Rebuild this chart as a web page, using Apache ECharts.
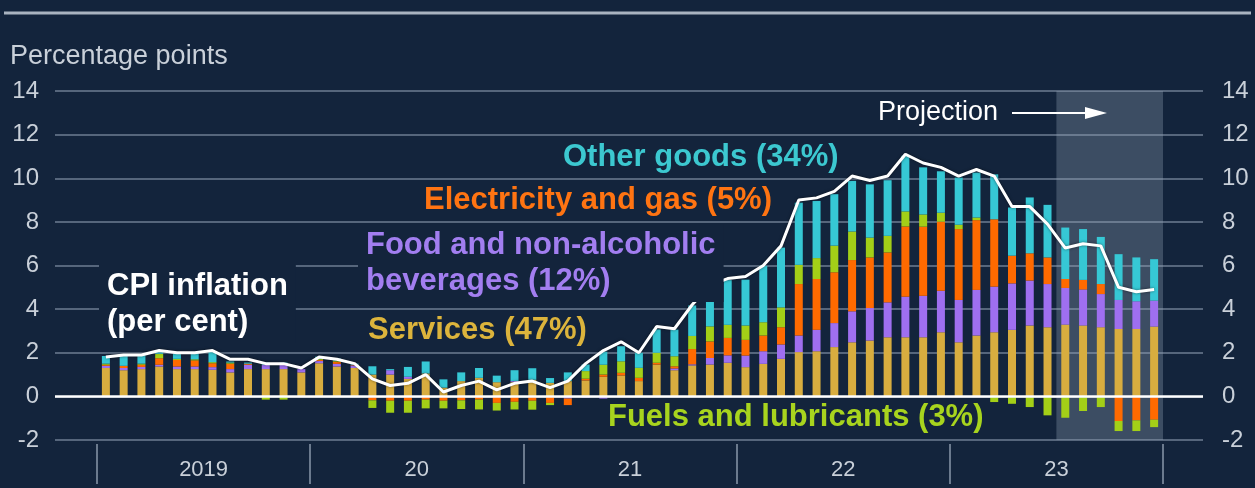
<!DOCTYPE html>
<html>
<head>
<meta charset="utf-8">
<script src="https://cdn.jsdelivr.net/npm/echarts@6/dist/echarts.min.js"></script>
<style>
  html, body { margin: 0; padding: 0; background: #13243c; }
  #chart { width: 1255px; height: 488px; }
</style>
</head>
<body>
<div id="chart"></div>
<script>
// monthly contributions to CPI inflation, Jan 2019 .. Dec 2023 (percentage points)
const years = ['2019', '2020', '2021', '2022', '2023'];
const monthNames = ['Jan', 'Feb', 'Mar', 'Apr', 'May', 'Jun', 'Jul', 'Aug', 'Sep', 'Oct', 'Nov', 'Dec'];
const yearLabels = ['2019', '20', '21', '22', '23'];

const services = [
  1.3, 1.2, 1.25, 1.37, 1.25, 1.25, 1.22, 1.1, 1.25, 1.25, 1.25, 1.1,
  1.52, 1.37, 1.3, 1.0, 1.0, 0.8, 1.05, 0.4, 0.7, 0.85, 0.65, 0.65,
  0.76, 0.62, 0.7, 0.73, 0.9, 0.96, 0.7, 1.46, 1.2, 1.42, 1.46, 1.54,
  1.34, 1.49, 1.72, 2.03, 2.07, 2.26, 2.48, 2.56, 2.71, 2.71, 2.71, 2.94,
  2.48, 2.79, 2.94, 3.05, 3.25, 3.17, 3.29, 3.25, 3.17, 3.09, 3.09, 3.2
];
const food = [
  0.1, 0.1, 0.1, 0.08, 0.12, 0.12, 0.12, 0.15, 0.2, 0.2, 0.2, 0.15,
  0.1, 0.12, 0.12, 0.0, 0.2, 0.1, 0.0, 0.0, 0.0, 0.0, 0.0, 0.05,
  0.0, 0.0, -0.1, -0.05, -0.1, 0.0, 0.0, 0.0, 0.08, 0.05, 0.3, 0.34,
  0.53, 0.58, 0.66, 0.76, 0.98, 1.1, 1.42, 1.49, 1.6, 1.86, 1.9, 1.9,
  1.94, 2.09, 2.09, 2.13, 2.06, 1.98, 1.68, 1.65, 1.52, 1.33, 1.27, 1.19
];
const electricity = [
  0.05, 0.1, 0.1, 0.3, 0.3, 0.28, 0.18, 0.25, 0.05, 0.0, 0.0, 0.0,
  0.05, 0.1, 0.03, -0.18, -0.2, -0.2, -0.15, -0.2, -0.18, -0.15, -0.3, -0.25,
  -0.2, -0.3, -0.3, 0.08, 0.1, 0.12, 0.15, 0.08, 0.1, 0.7, 0.76, 0.8,
  0.72, 0.72, 0.79, 2.36, 2.33, 2.33, 2.35, 2.32, 2.29, 3.22, 3.17, 3.17,
  3.25, 3.2, 3.09, 1.27, 1.25, 1.22, 0.41, 0.44, 0.46, -1.13, -1.1, -1.07
];
const fuels = [
  0.05, 0.0, 0.05, 0.2, 0.05, 0.05, 0.05, 0.05, 0.0, -0.15, -0.15, 0.0,
  0.05, 0.05, 0.0, -0.35, -0.55, -0.55, -0.4, -0.35, -0.4, -0.45, -0.35, -0.35,
  -0.41, -0.1, 0.0, 0.35, 0.45, 0.53, 0.46, 0.46, 0.46, 0.6, 0.69, 0.6,
  0.66, 0.61, 0.91, 0.88, 0.96, 1.22, 1.31, 0.91, 0.76, 0.69, 0.56, 0.41,
  0.2, 0.12, -0.26, -0.34, -0.49, -0.87, -0.98, -0.67, -0.49, -0.46, -0.49, -0.34
];
const otherGoods = [
  0.35, 0.45, 0.4, 0.1, 0.25, 0.3, 0.5, 0.05, 0.05, 0.1, 0.1, 0.0,
  0.1, 0.1, 0.05, 0.38, 0.05, 0.45, 0.55, 0.38, 0.4, 0.45, 0.3, 0.5,
  0.53, 0.22, 0.4, 0.3, 0.6, 0.69, 0.69, 1.07, 1.22, 1.4, 1.83, 2.05,
  2.1, 2.59, 2.74, 2.85, 2.62, 2.36, 2.32, 2.44, 2.55, 2.55, 2.16, 1.9,
  2.16, 2.06, 2.06, 2.21, 2.56, 2.41, 2.36, 2.33, 2.16, 2.1, 2.01, 1.9
];
const cpi = [
  1.8, 1.9, 1.9, 2.1, 2.0, 2.0, 2.1, 1.7, 1.7, 1.5, 1.5, 1.3,
  1.8, 1.7, 1.5, 0.8, 0.5, 0.6, 1.0, 0.2, 0.5, 0.7, 0.3, 0.6,
  0.7, 0.4, 0.7, 1.5, 2.1, 2.5, 2.0, 3.2, 3.1, 4.2, 5.1, 5.4,
  5.5, 6.0, 6.9, 9.0, 9.1, 9.4, 10.1, 9.9, 10.1, 11.1, 10.7, 10.5,
  10.1, 10.4, 10.1, 8.7, 8.7, 7.9, 6.8, 7.0, 6.9, 5.0, 4.8, 4.9
];
const projectionStart = 54; // Jul 2023

const months = [];
years.forEach(y => monthNames.forEach(m => months.push(m + ' ' + y)));

const BG = '#13243c';
const FONT = '"Liberation Sans", Arial, sans-serif';
const GRID_COLOR = '#56667c';
const AXIS_TEXT = '#c9d0d9';

const barSeries = (name, data, color) => ({
  name,
  type: 'bar',
  stack: 'contrib',
  xAxisIndex: 0,
  yAxisIndex: 0,
  barWidth: 8,
  z: 3,
  itemStyle: { color },
  data
});

const chart = echarts.init(document.getElementById('chart'));

const option = {
  backgroundColor: BG,
  animation: false,
  textStyle: { fontFamily: FONT },
  grid: [
    { left: 97, right: 92, top: 91, bottom: 48 },
    { left: 55, right: 52, top: 91, bottom: 48 }
  ],
  xAxis: [
    { type: 'category', gridIndex: 0, data: months, show: false },
    {
      type: 'value',
      gridIndex: 0,
      min: 0,
      max: 60,
      position: 'bottom',
      offset: 4,
      axisLine: { show: false },
      splitLine: { show: false },
      axisTick: {
        show: true,
        length: 40,
        customValues: [0, 12, 24, 36, 48, 60],
        lineStyle: { color: '#6b7a8e', width: 2 }
      },
      axisLabel: {
        customValues: [6, 18, 30, 42, 54],
        formatter: v => yearLabels[Math.round((v - 6) / 12)],
        margin: 15,
        fontSize: 22,
        color: AXIS_TEXT
      }
    },
    { type: 'value', gridIndex: 1, min: 0, max: 1, show: false }
  ],
  yAxis: [
    { type: 'value', gridIndex: 0, min: -2, max: 14, show: false },
    {
      type: 'value',
      gridIndex: 1,
      min: -2,
      max: 14,
      interval: 2,
      position: 'left',
      axisLine: { show: false },
      axisTick: { show: false },
      splitLine: { lineStyle: { color: GRID_COLOR, width: 2 } },
      axisLabel: { fontSize: 24, color: AXIS_TEXT, margin: 16 }
    },
    {
      type: 'value',
      gridIndex: 1,
      min: -2,
      max: 14,
      interval: 2,
      position: 'right',
      axisLine: { show: false },
      axisTick: { show: false },
      splitLine: { show: false },
      axisLabel: { fontSize: 24, color: AXIS_TEXT, margin: 19 }
    }
  ],
  series: [
    // projection shading
    {
      type: 'line',
      xAxisIndex: 1,
      yAxisIndex: 0,
      data: [],
      z: 1,
      markArea: {
        silent: true,
        itemStyle: { color: 'rgba(150, 165, 185, 0.32)' },
        data: [[{ xAxis: projectionStart }, { xAxis: 60 }]]
      }
    },
    barSeries('Services', services, '#d8ad3f'),
    barSeries('Food and non-alcoholic beverages', food, '#9f6ff0'),
    barSeries('Electricity and gas', electricity, '#ff6a00'),
    barSeries('Fuels and lubricants', fuels, '#a3cf17'),
    barSeries('Other goods', otherGoods, '#36c8d5'),
    // zero line across the full plot width
    {
      type: 'line',
      xAxisIndex: 2,
      yAxisIndex: 1,
      data: [],
      z: 10,
      markLine: {
        silent: true,
        symbol: 'none',
        label: { show: false },
        lineStyle: { color: '#ffffff', width: 2.5, type: 'solid' },
        data: [{ yAxis: 0 }]
      }
    },
    {
      name: 'CPI inflation',
      type: 'line',
      xAxisIndex: 0,
      yAxisIndex: 0,
      data: cpi,
      z: 12,
      showSymbol: false,
      lineStyle: {
        color: '#ffffff',
        width: 3,
        shadowColor: 'rgba(0,0,0,0.5)',
        shadowBlur: 3
      }
    }
  ],
  graphic: [
    { type: 'line', shape: { x1: 4, y1: 13, x2: 1251, y2: 13 }, style: { stroke: '#a9b3c0', lineWidth: 3 } },
    {
      type: 'text', x: 10, y: 57,
      style: { text: 'Percentage points', fill: AXIS_TEXT, fontSize: 27, fontFamily: FONT, verticalAlign: 'middle' }
    },
    {
      type: 'text', x: 99, y: 265, z: 100,
      style: {
        text: 'CPI inflation\n(per cent)', fill: '#ffffff', fontSize: 31, fontWeight: 'bold', fontFamily: FONT,
        lineHeight: 36, backgroundColor: BG, padding: [3, 8, 3, 8], verticalAlign: 'top'
      }
    },
    {
      type: 'text', x: 358, y: 224, z: 100,
      style: {
        text: 'Food and non-alcoholic\nbeverages (12%)', fill: '#a27ef0', fontSize: 31, fontWeight: 'bold', fontFamily: FONT,
        lineHeight: 36, backgroundColor: BG, padding: [3, 8, 3, 8], verticalAlign: 'top'
      }
    },
    {
      type: 'text', x: 368, y: 330, z: 100,
      style: { text: 'Services (47%)', fill: '#dcb43c', fontSize: 31, fontWeight: 'bold', fontFamily: FONT, verticalAlign: 'middle' }
    },
    {
      type: 'text', x: 424, y: 200, z: 100,
      style: { text: 'Electricity and gas (5%)', fill: '#ff7412', fontSize: 31, fontWeight: 'bold', fontFamily: FONT, verticalAlign: 'middle' }
    },
    {
      type: 'text', x: 563, y: 157, z: 100,
      style: { text: 'Other goods (34%)', fill: '#3cc8d0', fontSize: 31, fontWeight: 'bold', fontFamily: FONT, verticalAlign: 'middle' }
    },
    {
      type: 'text', x: 608, y: 417, z: 100,
      style: { text: 'Fuels and lubricants (3%)', fill: '#a8d41e', fontSize: 31, fontWeight: 'bold', fontFamily: FONT, verticalAlign: 'middle' }
    },
    {
      type: 'text', x: 878, y: 113, z: 100,
      style: { text: 'Projection', fill: '#ffffff', fontSize: 27, fontFamily: FONT, verticalAlign: 'middle' }
    },
    { type: 'line', z: 100, shape: { x1: 1012, y1: 113, x2: 1090, y2: 113 }, style: { stroke: '#ffffff', lineWidth: 2 } },
    { type: 'polygon', z: 100, shape: { points: [[1085, 107], [1107, 113], [1085, 119]] }, style: { fill: '#ffffff' } }
  ]
};

chart.setOption(option);
</script>
</body>
</html>
